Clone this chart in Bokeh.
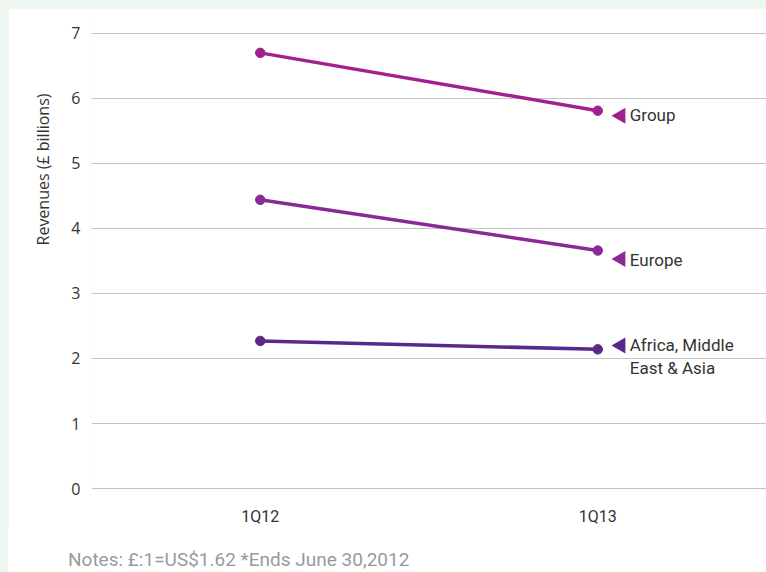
import math
from bokeh.plotting import figure
from bokeh.models import (ColumnDataSource, FactorRange, Range1d, FixedTicker, Title, Div)
from bokeh.transform import dodge
from bokeh.layouts import column
from bokeh.embed import file_html
from bokeh.resources import INLINE
from bokeh.core.properties import value

# ---- data ----
periods = ["1Q12", "1Q13"]
series_names = ["Group", "Europe", "Africa, Middle\nEast & Asia"]
group_vals = [6.70, 5.81]
europe_vals = [4.44, 3.66]
amea_vals = [2.27, 2.14]
y_ticks = [0, 1, 2, 3, 4, 5, 6, 7]
y_axis_title = "Revenues (£ billions)"
note_text = "Notes: £:1=US$1.62 *Ends June 30,2012"

# ---- styles ----
colors = ["#a3218e", "#8a2a96", "#58298a"]
marker_y_offsets = [5, 8.5, -4]   # px downwards, triangle marker placement
text_y_offsets = [4, 9, 7]        # px downwards, label text placement
FONT = "Roboto"
PX_PER_X = 337.5
PX_PER_Y = 65.43

p = figure(
    width=758, height=520,
    x_range=FactorRange(*periods, range_padding=0),
    y_range=Range1d(-0.015, 7.29),
    output_backend="svg", toolbar_location=None,
    min_border_left=83, min_border_right=0, min_border_top=6, min_border_bottom=36,
)
p.margin = (8, 0, 0, 8)
p.background_fill_color = "white"
p.border_fill_color = "white"
p.outline_line_color = None

# axes
p.yaxis.ticker = FixedTicker(ticks=y_ticks)
p.yaxis.axis_line_color = None
p.yaxis.major_tick_line_color = None
p.yaxis.minor_tick_line_color = None
p.yaxis.major_label_text_font = "Open Sans"
p.yaxis.major_label_text_font_size = "16px"
p.yaxis.major_label_text_color = "#333333"
p.yaxis.major_label_standoff = 5

p.xaxis.axis_line_color = None
p.xaxis.major_tick_line_color = None
p.xaxis.major_label_text_font = FONT
p.xaxis.major_label_text_font_size = "16px"
p.xaxis.major_label_text_color = "#333333"
p.xaxis.major_label_standoff = 11

p.xgrid.grid_line_color = None
p.ygrid.grid_line_color = "#c4c4c4"
p.ygrid.grid_line_width = 1

all_vals = [group_vals, europe_vals, amea_vals]
for name, vals, col, myoff, tyoff in zip(series_names, all_vals, colors,
                                        marker_y_offsets, text_y_offsets):
    src = ColumnDataSource(dict(x=periods, y=vals))
    p.line("x", "y", source=src, line_color=col, line_width=3.5)
    p.scatter("x", "y", source=src, size=9.5, fill_color=col, line_color=col)
    lsrc = ColumnDataSource(dict(x=[periods[-1]], y=[vals[-1]], t=[name]))
    p.scatter(dodge("x", 23 / PX_PER_X, range=p.x_range),
              dodge("y", -myoff / PX_PER_Y, range=p.y_range),
              source=lsrc, marker="triangle", size=16, angle=math.pi / 2,
              fill_color=col, line_color=None)
    p.text("x", "y", text="t", source=lsrc, x_offset=32, y_offset=tyoff,
           text_font=value(FONT), text_font_size="17px", text_color="#333333",
           text_baseline="middle", text_align="left", text_line_height=1.15)

p.add_layout(Title(text=y_axis_title, align="right", offset=79, standoff=30,
                   text_font="Open Sans", text_font_size="16px",
                   text_font_style="normal", text_color="#333333"), "left")

notes = Div(
    text=f'<span style="font-family: Roboto; font-size: 19px; line-height: 20px; '
         f'color: #9a9a9a; white-space: nowrap;">{note_text}</span>',
    width=758, height=44, margin=(0, 0, 0, 8),
    styles={"background-color": "white", "padding": "22px 0 0 60px",
            "box-sizing": "border-box"},
)

layout = column(p, notes, styles={"background-color": "#eef7ef"}, width=766, height=572)
layout.margin = 0

open("out.html", "w").write(file_html(layout, INLINE))
